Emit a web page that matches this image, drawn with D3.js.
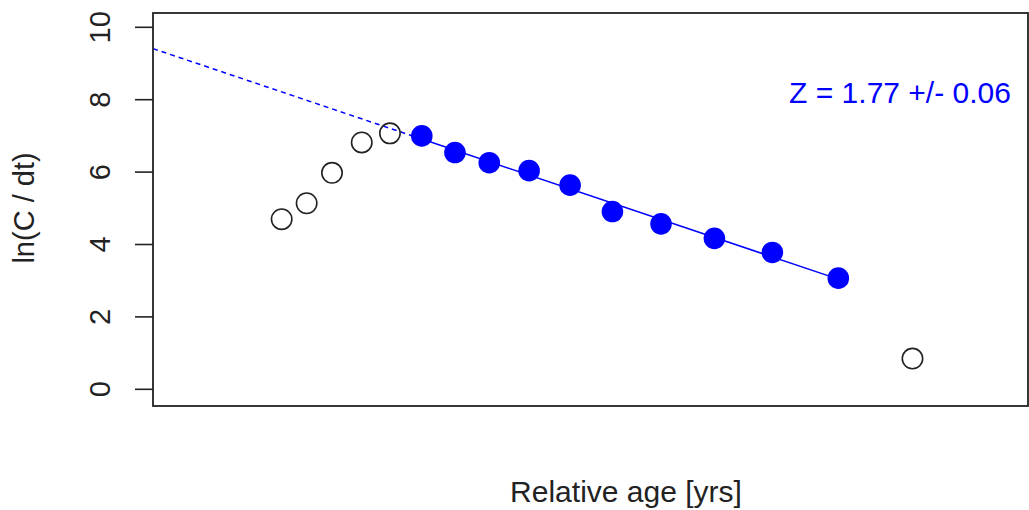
<!DOCTYPE html>
<html>
<head>
<meta charset="utf-8">
<script src="https://cdn.jsdelivr.net/npm/d3@7"></script>
<style>
  body { margin: 0; background: #fff; }
  text { font-family: "Liberation Sans", Arial, sans-serif; }
</style>
</head>
<body>
<svg id="chart" width="1029" height="510"></svg>
<script>
// points used in the fit (filled)
var fitAge = [1.410, 1.584, 1.764, 1.973, 2.188, 2.410, 2.665, 2.945, 3.249, 3.595];
var fitLnC = [7.00, 6.54, 6.26, 6.04, 5.64, 4.91, 4.57, 4.17, 3.78, 3.07];
// points left out (open)
var outAge = [0.675, 0.806, 0.939, 1.095, 1.243, 3.984];
var outLnC = [4.70, 5.14, 5.98, 6.82, 7.07, 0.85];
var yTicks = [0, 2, 4, 6, 8, 10];
var zLabel = "Z = 1.77 +/- 0.06";

var svg = d3.select("#chart");
var boxL = 153, boxR = 1028, boxT = 13, boxB = 406;

var x = d3.scaleLinear().domain([0, 4.59]).range([boxL, boxR]);
var y = d3.scaleLinear().domain([0, 10]).range([389.3, 27.3]);

// least squares line through the filled points
var mx = d3.mean(fitAge), my = d3.mean(fitLnC);
var sxy = d3.sum(fitAge, function(d, i){ return (d - mx) * (fitLnC[i] - my); });
var sxx = d3.sum(fitAge, function(d){ return (d - mx) * (d - mx); });
var slope = sxy / sxx, icpt = my - slope * mx;
function fitted(a) { return icpt + slope * a; }

var line = d3.line().x(function(d){ return x(d); }).y(function(d){ return y(fitted(d)); });

svg.append("path")
  .attr("d", line([x.domain()[0], fitAge[0]]))
  .attr("fill", "none").attr("stroke", "#0000ff")
  .attr("stroke-width", 1.5).attr("stroke-dasharray", "5,4");
svg.append("path")
  .attr("d", line([fitAge[0], fitAge[fitAge.length - 1]]))
  .attr("fill", "none").attr("stroke", "#0000ff").attr("stroke-width", 1.5);

// open points
svg.append("g").selectAll("circle")
  .data(outAge).enter().append("circle")
  .attr("cx", function(d){ return x(d); })
  .attr("cy", function(d, i){ return y(outLnC[i]); })
  .attr("r", 10.2)
  .attr("fill", "none").attr("stroke", "#222").attr("stroke-width", 1.6);

// filled points
svg.append("g").selectAll("circle")
  .data(fitAge).enter().append("circle")
  .attr("cx", function(d){ return x(d); })
  .attr("cy", function(d, i){ return y(fitLnC[i]); })
  .attr("r", 10.8)
  .attr("fill", "#0000ff");

// box
svg.append("rect")
  .attr("x", boxL).attr("y", boxT)
  .attr("width", boxR - boxL).attr("height", boxB - boxT)
  .attr("fill", "none").attr("stroke", "#222").attr("stroke-width", 1.8);

// y axis
var yAxis = svg.append("g");
yAxis.selectAll("line").data(yTicks).enter().append("line")
  .attr("x1", 135).attr("x2", boxL)
  .attr("y1", function(d){ return y(d); }).attr("y2", function(d){ return y(d); })
  .attr("stroke", "#222").attr("stroke-width", 1.6);
yAxis.selectAll("text").data(yTicks).enter().append("text")
  .attr("transform", function(d){ return "translate(110," + y(d) + ") rotate(-90)"; })
  .attr("text-anchor", "middle")
  .attr("font-size", 29)
  .attr("fill", "#222")
  .text(function(d){ return d; });

// axis titles
svg.append("text")
  .attr("transform", "translate(34,208) rotate(-90)")
  .attr("text-anchor", "middle")
  .attr("font-size", 29)
  .attr("fill", "#222")
  .text("ln(C / dt)");

svg.append("text")
  .attr("x", 626).attr("y", 502)
  .attr("text-anchor", "middle")
  .attr("font-size", 30)
  .attr("fill", "#222")
  .text("Relative age [yrs]");

// slope annotation
svg.append("text")
  .attr("x", 900).attr("y", 103)
  .attr("text-anchor", "middle")
  .attr("font-size", 30)
  .attr("fill", "#0000ff")
  .text(zLabel);
</script>
</body>
</html>
